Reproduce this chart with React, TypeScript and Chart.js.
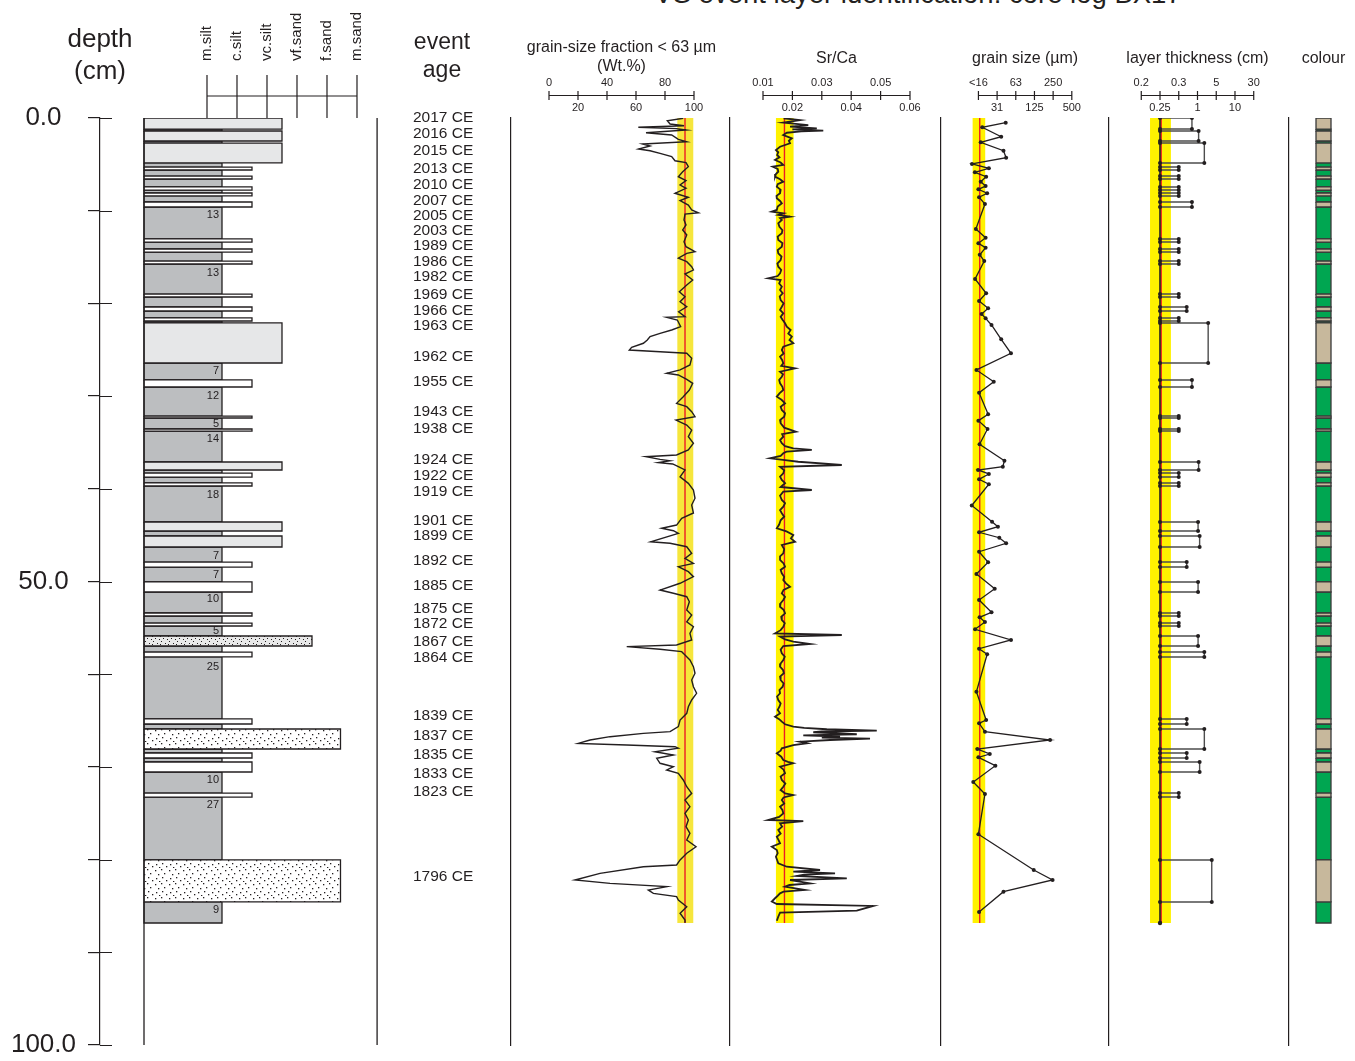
import React, { useEffect, useRef } from 'react';
import { Chart, registerables } from 'chart.js';

Chart.register(...registerables);

const FONT = '"Liberation Sans", Arial, Helvetica, sans-serif';
const INK = '#231f20';
const YELLOW = '#fff200';
const YELLOW_GSF = '#f6e63c';
const RED = '#ed1c24';

// ---------------- depth axis ----------------
const depthTickStep = 10;
const depthLabelValues = [0, 50, 100];
const coreBottom = 86.84;

// ---------------- lithology ----------------
const grainClassLabels = ['m.silt', 'c.silt', 'vc.silt', 'vf.sand', 'f.sand', 'm.sand'];
const grainClassTicks = [2, 3, 4, 5, 6, 7];

// event layers (depth in cm), grain class, plotted layer thickness (cm)
const eventTop = [0, 1.40, 2.70, 5.29, 6.26, 7.44, 8.09, 9.06, 13.05, 14.13, 15.43, 18.99, 20.39, 21.57, 22.11, 28.26, 32.15, 33.55, 37.11, 38.30, 39.37, 43.58, 45.09, 47.90, 50.05, 53.40, 54.48, 55.88, 57.61, 64.83, 65.91, 68.50, 69.47, 72.82, 80.04];
const eventBottom = [1.19, 2.48, 4.85, 5.61, 6.58, 7.77, 8.41, 9.60, 13.38, 14.46, 15.75, 19.31, 20.82, 21.90, 26.43, 29.02, 32.36, 33.77, 37.97, 38.73, 39.70, 44.55, 46.28, 48.44, 51.13, 53.72, 54.80, 56.96, 58.14, 65.37, 68.07, 69.04, 70.55, 73.25, 84.57];
const eventGrain = ['vcsilt', 'vcsilt', 'vcsilt', 'csilt', 'csilt', 'csilt', 'csilt', 'csilt', 'csilt', 'csilt', 'csilt', 'csilt', 'csilt', 'csilt', 'vcsilt', 'csilt', 'csilt', 'csilt', 'vcsilt', 'csilt', 'csilt', 'vcsilt', 'vcsilt', 'csilt', 'csilt', 'csilt', 'csilt', 'vfsand', 'csilt', 'csilt', 'fsand', 'csilt', 'csilt', 'csilt', 'fsand'];
const eventThickness = [0.7, 1.1, 1.8, 0.3, 0.3, 0.3, 0.3, 0.7, 0.3, 0.3, 0.3, 0.3, 0.5, 0.3, 2.5, 0.7, 0.3, 0.3, 1.1, 0.3, 0.3, 1.05, 1.2, 0.5, 1.05, 0.3, 0.3, 1.05, 1.8, 0.5, 1.8, 0.5, 1.2, 0.3, 3.4];

const bedLabelText = ['13', '13', '7', '12', '5', '14', '18', '7', '7', '10', '5', '25', '10', '27', '9'];
const bedLabelDepth = [10.46, 16.72, 27.29, 29.99, 33.01, 34.63, 40.67, 47.25, 49.30, 51.89, 55.34, 59.22, 71.41, 74.11, 85.44];

const eventAgeLabels = ['2017 CE', '2016 CE', '2015 CE', '2013 CE', '2010 CE', '2007 CE', '2005 CE', '2003 CE', '1989 CE', '1986 CE', '1982 CE', '1969 CE', '1966 CE', '1963 CE', '1962 CE', '1955 CE', '1943 CE', '1938 CE', '1924 CE', '1922 CE', '1919 CE', '1901 CE', '1899 CE', '1892 CE', '1885 CE', '1875 CE', '1872 CE', '1867 CE', '1864 CE', '1839 CE', '1837 CE', '1835 CE', '1833 CE', '1823 CE', '1796 CE'];
const eventAgeDepths = [0.00, 1.73, 3.56, 5.50, 7.23, 8.95, 10.57, 12.19, 13.81, 15.53, 17.15, 19.09, 20.82, 22.44, 25.78, 28.48, 31.72, 33.55, 36.89, 38.62, 40.35, 43.47, 45.09, 47.79, 50.49, 52.97, 54.58, 56.53, 58.25, 64.51, 66.67, 68.72, 70.77, 72.71, 81.88];

// ---------------- grain-size fraction < 63 µm ----------------
const gsfAxisTicks = [0, 20, 40, 60, 80, 100];
const gsfBand = [88.5, 99.5];
const gsfMean = 93.8;
const gsfDepth = [
  0.03, 0.29, 0.65, 0.83, 1.00, 1.15, 1.29, 1.59, 1.83, 2.30,
  2.56, 2.80, 3.02, 3.34, 3.53, 3.81, 4.17, 4.61, 4.82, 5.25,
  5.79, 6.33, 6.76, 7.23, 7.58, 8.12, 8.55, 8.92, 9.39, 9.92,
  10.22, 10.36, 11.00, 11.54, 12.08, 12.62, 13.34, 13.88, 14.42, 14.60,
  15.13, 15.50, 16.04, 16.40, 16.83, 17.48, 18.02, 18.74, 19.28, 19.82,
  20.36, 20.90, 21.43, 21.50, 21.79, 22.51, 22.87, 23.23, 23.59, 23.95,
  24.30, 24.74, 25.03, 25.21, 25.38, 25.92, 26.64, 27.18, 27.54, 27.72,
  28.19, 28.62, 29.34, 30.06, 30.78, 31.14, 31.68, 32.22, 32.58, 33.12,
  33.66, 34.38, 35.09, 35.81, 36.35, 36.54, 36.82, 36.97, 37.18, 37.32,
  37.62, 37.97, 38.70, 39.41, 40.13, 41.02, 41.75, 42.61, 43.18, 43.91,
  44.26, 44.52, 44.80, 45.71, 45.88, 46.25, 46.96, 47.50, 48.04, 48.40,
  48.94, 49.48, 50.19, 50.92, 51.27, 51.64, 52.18, 53.07, 53.61, 54.34,
  54.88, 55.59, 56.31, 56.85, 57.03, 57.31, 57.57, 57.93, 58.47, 59.19,
  59.90, 60.63, 61.35, 62.06, 62.78, 63.51, 64.22, 64.94, 65.66, 66.20,
  66.38, 66.74, 67.10, 67.46, 67.64, 67.82, 67.99, 68.36, 68.72, 69.07,
  69.61, 69.98, 70.33, 70.69, 71.41, 72.14, 72.85, 73.57, 74.29, 75.01,
  75.73, 76.45, 77.16, 77.89, 78.61, 79.32, 80.04, 80.58, 80.77, 81.48,
  82.20, 82.56, 82.92, 83.28, 83.64, 84.00, 84.36, 85.08, 85.79, 86.52,
  86.81,
];
const gsfValue = [
  92.6, 81.6, 83.5, 93.1, 61.6, 88.0, 94.5, 66.9, 84.6, 89.2,
  95.0, 64.6, 69.7, 61.8, 69.7, 76.6, 84.6, 86.9, 94.5, 96.1,
  92.2, 89.2, 94.5, 90.4, 94.5, 86.9, 96.1, 90.4, 96.1, 98.4,
  103.0, 93.8, 93.1, 94.5, 92.2, 95.0, 93.1, 94.5, 100.7, 95.0,
  89.2, 95.0, 98.4, 99.6, 93.8, 99.1, 95.0, 89.9, 93.8, 90.4,
  95.0, 89.4, 93.8, 81.2, 88.5, 90.8, 84.6, 76.6, 69.7, 67.8,
  65.1, 57.0, 55.4, 76.6, 95.0, 98.4, 97.2, 90.4, 81.2, 89.2,
  95.0, 99.1, 96.8, 92.6, 88.0, 95.0, 98.4, 100.7, 87.6, 95.0,
  98.4, 96.1, 99.6, 96.1, 88.0, 66.9, 76.6, 83.5, 75.4, 85.3,
  89.2, 93.8, 90.4, 96.1, 99.6, 100.7, 98.4, 99.6, 91.5, 88.0,
  77.7, 85.8, 89.2, 70.1, 83.5, 95.0, 98.4, 93.8, 99.6, 89.2,
  96.1, 99.6, 90.4, 76.6, 85.8, 95.0, 96.8, 95.0, 98.4, 95.0,
  99.6, 97.2, 98.4, 88.0, 53.6, 76.6, 91.5, 93.8, 97.2, 99.6,
  100.7, 98.4, 99.6, 101.8, 98.4, 96.1, 95.0, 90.4, 89.2, 83.5,
  65.1, 42.1, 28.3, 20.2, 53.6, 86.9, 89.2, 73.1, 85.8, 74.3,
  76.6, 85.8, 81.2, 89.2, 92.6, 95.0, 98.4, 93.8, 97.2, 93.8,
  96.1, 94.5, 97.2, 95.0, 101.4, 95.0, 90.4, 88.0, 65.1, 35.2,
  17.9, 42.1, 81.2, 68.5, 72.0, 88.0, 89.2, 95.0, 90.4, 93.8,
  93.8,
];

// ---------------- Sr/Ca ----------------
const srcaAxisTicks = [0.01, 0.02, 0.03, 0.04, 0.05, 0.06];
const srcaBand = [0.0144, 0.0204];
const srcaMean = 0.0173;
const srcaDepth = [
  0.03, 0.22, 0.50, 0.76, 0.94, 1.11, 1.22, 1.37, 1.45, 1.59,
  1.83, 2.19, 2.45, 2.73, 3.10, 3.45, 3.70, 3.99, 4.25, 4.53,
  4.80, 5.07, 5.25, 5.50, 5.79, 6.05, 6.33, 6.60, 6.87, 7.15,
  7.41, 7.75, 8.12, 8.40, 8.66, 8.95, 9.20, 9.55, 9.92, 10.11,
  10.28, 10.45, 10.65, 10.80, 11.00, 11.35, 11.73, 12.10, 12.44, 12.80,
  13.16, 13.50, 13.88, 14.25, 14.60, 14.95, 15.32, 15.70, 16.04, 16.40,
  16.75, 17.05, 17.29, 17.48, 17.85, 18.20, 18.55, 18.91, 19.25, 19.63,
  20.00, 20.36, 20.70, 21.07, 21.45, 21.79, 22.15, 22.51, 22.87, 23.25,
  23.59, 23.95, 24.30, 24.67, 25.03, 25.40, 25.75, 26.10, 26.46, 26.75,
  27.00, 27.37, 27.65, 27.91, 28.25, 28.62, 29.00, 29.34, 29.70, 30.06,
  30.40, 30.78, 31.15, 31.50, 31.85, 32.22, 32.58, 32.93, 33.40, 33.84,
  34.10, 34.38, 34.75, 35.09, 35.40, 35.63, 35.81, 36.00, 36.17, 36.45,
  36.71, 36.90, 37.08, 37.43, 37.62, 38.00, 38.33, 38.70, 39.05, 39.40,
  39.80, 40.13, 40.31, 40.75, 41.21, 41.55, 41.93, 42.30, 42.64, 43.00,
  43.40, 43.85, 44.26, 44.60, 44.98, 45.35, 45.71, 46.06, 46.50, 46.96,
  47.30, 47.68, 48.05, 48.40, 48.75, 49.12, 49.50, 49.84, 50.20, 50.56,
  50.90, 51.27, 51.65, 52.00, 52.35, 52.72, 53.05, 53.43, 53.80, 54.15,
  54.50, 54.88, 55.25, 55.59, 55.77, 55.95, 56.25, 56.49, 56.74, 56.96,
  57.35, 57.75, 58.10, 58.47, 58.85, 59.19, 59.55, 59.90, 60.25, 60.63,
  61.00, 61.35, 61.70, 62.06, 62.40, 62.78, 63.15, 63.51, 63.85, 64.22,
  64.58, 64.85, 65.12, 65.40, 65.66, 65.80, 65.94, 66.09, 66.18, 66.26,
  66.37, 66.48, 66.59, 66.74, 66.85, 66.96, 67.10, 67.28, 67.45, 67.64,
  67.99, 68.25, 68.53, 68.90, 69.26, 69.45, 69.61, 69.98, 70.30, 70.69,
  71.05, 71.41, 71.80, 72.14, 72.50, 72.85, 73.03, 73.30, 73.57, 73.95,
  74.29, 74.65, 75.01, 75.40, 75.73, 75.84, 76.09, 76.45, 76.81, 77.20,
  77.53, 77.90, 78.24, 78.61, 78.96, 79.30, 79.69, 80.05, 80.40, 80.77,
  81.12, 81.30, 81.48, 81.62, 81.77, 82.02, 82.20, 82.40, 82.56, 82.74,
  82.92, 83.10, 83.28, 83.45, 83.64, 83.90, 84.17, 84.53, 84.79, 85.00,
  85.51, 85.73, 86.16, 86.59,
];
const srcaValue = [
  0.0170, 0.0226, 0.0169, 0.0254, 0.0192, 0.0283, 0.0200, 0.0305, 0.0230, 0.0181,
  0.0169, 0.0198, 0.0188, 0.0192, 0.0158, 0.0144, 0.0152, 0.0148, 0.0156, 0.0141,
  0.0160, 0.0169, 0.0133, 0.0150, 0.0152, 0.0144, 0.0141, 0.0158, 0.0169, 0.0150,
  0.0147, 0.0160, 0.0158, 0.0146, 0.0147, 0.0158, 0.0164, 0.0150, 0.0147, 0.0130,
  0.0169, 0.0152, 0.0192, 0.0158, 0.0164, 0.0152, 0.0156, 0.0166, 0.0164, 0.0150,
  0.0152, 0.0166, 0.0164, 0.0150, 0.0152, 0.0163, 0.0160, 0.0149, 0.0152, 0.0162,
  0.0158, 0.0150, 0.0118, 0.0160, 0.0155, 0.0164, 0.0158, 0.0167, 0.0157, 0.0160,
  0.0170, 0.0164, 0.0158, 0.0169, 0.0160, 0.0167, 0.0175, 0.0181, 0.0194, 0.0186,
  0.0198, 0.0190, 0.0203, 0.0169, 0.0164, 0.0170, 0.0158, 0.0165, 0.0169, 0.0162,
  0.0209, 0.0158, 0.0168, 0.0164, 0.0155, 0.0158, 0.0166, 0.0169, 0.0156, 0.0147,
  0.0163, 0.0175, 0.0160, 0.0164, 0.0175, 0.0172, 0.0158, 0.0160, 0.0172, 0.0212,
  0.0165, 0.0169, 0.0158, 0.0164, 0.0175, 0.0203, 0.0266, 0.0180, 0.0169, 0.0160,
  0.0124, 0.0175, 0.0220, 0.0368, 0.0158, 0.0172, 0.0169, 0.0158, 0.0164, 0.0175,
  0.0160, 0.0266, 0.0169, 0.0158, 0.0164, 0.0175, 0.0169, 0.0158, 0.0164, 0.0172,
  0.0160, 0.0155, 0.0147, 0.0180, 0.0203, 0.0195, 0.0209, 0.0164, 0.0172, 0.0169,
  0.0158, 0.0158, 0.0170, 0.0175, 0.0160, 0.0164, 0.0172, 0.0169, 0.0178, 0.0192,
  0.0170, 0.0164, 0.0175, 0.0169, 0.0160, 0.0158, 0.0170, 0.0175, 0.0162, 0.0164,
  0.0174, 0.0169, 0.0160, 0.0141, 0.0368, 0.0158, 0.0175, 0.0203, 0.0260, 0.0169,
  0.0160, 0.0164, 0.0174, 0.0169, 0.0160, 0.0158, 0.0168, 0.0171, 0.0158, 0.0160,
  0.0170, 0.0167, 0.0156, 0.0158, 0.0148, 0.0152, 0.0160, 0.0156, 0.0150, 0.0158,
  0.0141, 0.0155, 0.0164, 0.0175, 0.0203, 0.0240, 0.0317, 0.0487, 0.0300, 0.0271,
  0.0350, 0.0419, 0.0237, 0.0362, 0.0300, 0.0464, 0.0328, 0.0226, 0.0250, 0.0203,
  0.0164, 0.0160, 0.0147, 0.0162, 0.0169, 0.0185, 0.0203, 0.0158, 0.0170, 0.0175,
  0.0160, 0.0164, 0.0176, 0.0169, 0.0160, 0.0175, 0.0203, 0.0170, 0.0164, 0.0172,
  0.0158, 0.0166, 0.0169, 0.0155, 0.0118, 0.0237, 0.0158, 0.0165, 0.0152, 0.0160,
  0.0147, 0.0153, 0.0158, 0.0130, 0.0147, 0.0150, 0.0144, 0.0148, 0.0152, 0.0181,
  0.0294, 0.0203, 0.0345, 0.0240, 0.0215, 0.0385, 0.0192, 0.0230, 0.0260, 0.0190,
  0.0175, 0.0210, 0.0243, 0.0170, 0.0158, 0.0150, 0.0141, 0.0130, 0.0147, 0.0475,
  0.0419, 0.0158, 0.0152, 0.0147,
];

// ---------------- grain size (µm) ----------------
const gsAxisTicks = [15.625, 31.25, 62.5, 125, 250, 500];
const gsAxisLabels = ['<16', '31', '63', '125', '250', '500'];
const gsBand = [12.6, 20.1];
const gsMean = 16.4;
const gsDepth = [
  0.51, 1.00, 2.02, 2.62, 3.53, 4.28, 4.96, 5.43, 5.86, 6.33,
  6.87, 7.34, 7.69, 8.12, 8.55, 9.28, 11.97, 12.91, 13.52, 13.99,
  14.75, 15.43, 17.37, 18.91, 19.74, 20.53, 21.14, 21.61, 22.33, 23.87,
  25.38, 27.18, 28.45, 29.63, 31.96, 32.65, 33.55, 35.20, 36.97, 37.62,
  37.97, 38.40, 38.98, 39.51, 41.80, 43.55, 44.09, 44.69, 45.28, 45.88,
  46.79, 47.93, 49.19, 50.78, 52.00, 53.32, 53.86, 54.37, 55.16, 56.31,
  57.25, 57.85, 61.89, 64.94, 65.30, 66.20, 67.10, 68.07, 68.61, 68.97,
  69.87, 71.63, 72.92, 77.27, 81.12, 82.20, 83.46, 85.65,
];
const gsValue = [
  43.0, 18.0, 36.4, 17.0, 39.6, 43.7, 12.3, 23.0, 13.7, 20.8,
  17.0, 20.4, 15.6, 21.6, 16.0, 19.9, 14.2, 20.4, 15.6, 20.4,
  16.4, 19.4, 13.8, 20.8, 16.0, 22.4, 17.6, 20.4, 25.4, 36.4,
  52.3, 14.5, 27.6, 16.0, 22.4, 15.6, 21.9, 16.3, 41.0, 38.6,
  15.4, 23.0, 16.0, 23.0, 12.2, 25.9, 32.2, 16.0, 33.9, 43.7,
  16.0, 22.4, 14.5, 28.6, 16.0, 25.4, 16.3, 19.9, 13.8, 52.3,
  16.0, 21.6, 14.5, 20.8, 16.0, 19.9, 222.9, 15.0, 23.8, 15.6,
  29.3, 12.9, 19.9, 15.6, 121.7, 244.8, 39.6, 16.0,
];

// ---------------- layer thickness (cm) ----------------
const thicknessTicks = [0.2, 0.25, 0.3, 1, 5, 10, 30];
const thicknessTickLabels = ['0.2', '0.25', '0.3', '1', '5', '10', '30'];
const thicknessBaseline = 0.25;
const thicknessBand = [0.222, 0.278];
const thicknessMean = 0.253;

// ---------------- colours ----------------
const colourEvent = '#c7b89c';
const colourBackground = '#00a651';

// ====================================================================
const AXIS_Y = 95.5;
type Pt = { x: number; y: number };

const rect = (x0: number, x1: number, top: number, bottom: number): Pt[] => [
  { x: x0, y: top }, { x: x1, y: top }, { x: x1, y: bottom }, { x: x0, y: bottom }, { x: x0, y: top },
];
const vline = (x: number, top: number, bottom: number): Pt[] => [{ x, y: top }, { x, y: bottom }];
const zip = (ys: number[], xs: number[]): Pt[] => ys.map((y, i) => ({ x: xs[i], y }));

function gaps(tops: number[], bottoms: number[], start: number, end: number): number[][] {
  const out: number[][] = [];
  let cur = start;
  tops.forEach((t, i) => {
    if (t > cur + 1e-6) out.push([cur, t]);
    cur = bottoms[i];
  });
  if (cur < end - 1e-6) out.push([cur, end]);
  return out;
}

function thicknessPos(t: number): number {
  const k = thicknessTicks;
  for (let i = 0; i < k.length - 1; i++) {
    if (t <= k[i + 1] || i === k.length - 2) {
      return i + Math.log(t / k[i]) / Math.log(k[i + 1] / k[i]);
    }
  }
  return 0;
}

function shapeDs(points: Pt[], fill: any, opts: any = {}) {
  return { data: points, fill: 'shape', backgroundColor: fill, borderColor: INK, borderWidth: 1.3, pointRadius: 0, ...opts };
}
function lineDs(points: Pt[], color: string, width: number, opts: any = {}) {
  return { data: points, fill: false, borderColor: color, borderWidth: width, pointRadius: 0, ...opts };
}

function txt(ctx: CanvasRenderingContext2D, s: string, x: number, y: number, size: number, align: CanvasTextAlign = 'center') {
  ctx.save();
  ctx.font = `${size}px ${FONT}`;
  ctx.fillStyle = INK;
  ctx.textAlign = align;
  ctx.textBaseline = 'middle';
  ctx.fillText(s, x, y);
  ctx.restore();
}

function topAxis(chart: any, values: number[], labels: string[]) {
  const ctx: CanvasRenderingContext2D = chart.ctx;
  const xs = chart.scales.x;
  const px = values.map((v) => xs.getPixelForValue(v));
  ctx.save();
  ctx.strokeStyle = INK;
  ctx.lineWidth = 1.2;
  ctx.beginPath();
  ctx.moveTo(px[0], AXIS_Y);
  ctx.lineTo(px[px.length - 1], AXIS_Y);
  px.forEach((p) => {
    ctx.moveTo(p, AXIS_Y - 4.5);
    ctx.lineTo(p, AXIS_Y + 4.5);
  });
  ctx.stroke();
  ctx.restore();
  labels.forEach((l, i) => txt(ctx, l, px[i], i % 2 === 0 ? 83 : 108, 11));
}

function panelTitle(chart: any, lines: string[], centerValue: number) {
  const x = chart.scales.x.getPixelForValue(centerValue);
  if (lines.length === 1) txt(chart.ctx, lines[0], x, 59, 16);
  else {
    txt(chart.ctx, lines[0], x, 48, 16);
    txt(chart.ctx, lines[1], x, 67, 16);
  }
}

function panelOptions(x: any, draw: (c: any) => void) {
  return {
    options: {
      responsive: false,
      animation: false,
      devicePixelRatio: 1,
      events: [],
      layout: { padding: { top: 118, bottom: 16, left: 0, right: 0 } },
      plugins: { legend: { display: false }, tooltip: { enabled: false }, title: { display: false } },
      elements: { line: { tension: 0 }, point: { radius: 0 } },
      scales: {
        x: { display: false, bounds: 'data', ...x },
        y: {
          type: 'linear', position: 'left', reverse: true, min: 0, max: 100,
          afterFit: (s: any) => { s.width = 10; },
          ticks: { display: false },
          grid: { display: false },
          border: { display: true, color: INK, width: 1.2 },
        },
      },
    },
    plugins: [{ id: 'decor', afterDraw: (c: any) => draw(c) }],
  };
}

function makePattern(bg: string, dots: number[][], size: number, dot: number): CanvasPattern | string {
  const c = document.createElement('canvas');
  c.width = size;
  c.height = size;
  const g = c.getContext('2d');
  if (!g) return bg;
  g.fillStyle = bg;
  g.fillRect(0, 0, size, size);
  g.fillStyle = INK;
  dots.forEach(([x, y]) => g.fillRect(x, y, dot, dot));
  return g.createPattern(c, 'repeat') || bg;
}

const LOG_LEFT = -0.1;
const LOG_RIGHT = 7.67;
const grainPos: Record<string, number> = { mud: 2.5, csilt: 3.5, vcsilt: 4.5, vfsand: 5.5, fsand: 6.45 };

export default function App() {
  const r0 = useRef<HTMLCanvasElement>(null);
  const r1 = useRef<HTMLCanvasElement>(null);
  const r2 = useRef<HTMLCanvasElement>(null);
  const r3 = useRef<HTMLCanvasElement>(null);
  const r4 = useRef<HTMLCanvasElement>(null);
  const r5 = useRef<HTMLCanvasElement>(null);

  useEffect(() => {
    const fineStipple = makePattern('#e9e9e9', [[1, 1], [5, 3], [3, 6], [7, 7], [0, 4]], 8, 1);
    const coarseStipple = makePattern('#ffffff', [[1, 2], [7, 1], [4, 6], [10, 5], [2, 10], [8, 9], [12, 12], [5, 13]], 14, 1.3);
    const fills: Record<string, any> = { mud: '#bcbec0', csilt: '#ffffff', vcsilt: '#e6e7e8', vfsand: fineStipple, fsand: coarseStipple };

    const charts: Chart[] = [];

    // ---------- depth + lithology + event ages ----------
    const mudBeds = gaps(eventTop, eventBottom, 0, coreBottom);
    const logCfg: any = {
      type: 'line',
      data: {
        datasets: [
          ...mudBeds.map(([t, b]) => shapeDs(rect(LOG_LEFT, grainPos.mud, t, b), fills.mud, { order: 2 })),
          ...eventTop.map((t, i) => shapeDs(rect(LOG_LEFT, grainPos[eventGrain[i]], t, eventBottom[i]), fills[eventGrain[i]], { order: 1 })),
          lineDs(vline(LOG_LEFT, 0, 100), INK, 1.3, { order: 0 }),
          lineDs(vline(LOG_RIGHT, 0, 100), INK, 1.3, { order: 0 }),
        ],
      },
      options: {
        responsive: false,
        animation: false,
        devicePixelRatio: 1,
        events: [],
        layout: { padding: { top: 118, bottom: 16, left: 0, right: 0 } },
        plugins: { legend: { display: false }, tooltip: { enabled: false } },
        scales: {
          x: { type: 'linear', display: false, bounds: 'data', min: -1.5667, max: 11.767 },
          y: {
            type: 'linear', position: 'left', reverse: true, min: 0, max: 100,
            afterFit: (s: any) => {
              s.width = 100;
              s.paddingTop = 0;
              s.paddingBottom = 0;
            },
            ticks: {
              stepSize: depthTickStep, autoSkip: false, padding: 12, crossAlign: 'center', color: INK,
              font: { family: FONT, size: 26 },
              callback: (v: any) => (depthLabelValues.includes(Number(v)) ? Number(v).toFixed(1) : ''),
            },
            grid: { drawOnChartArea: false, drawTicks: true, tickLength: 12, color: INK, lineWidth: 1.2 },
            border: { display: true, color: INK, width: 1.2 },
          },
        },
      },
      plugins: [{
        id: 'decor',
        afterDraw: (c: any) => {
          const ctx: CanvasRenderingContext2D = c.ctx;
          const xs = c.scales.x;
          const ys = c.scales.y;
          const left = c.chartArea.left;
          // right half of depth ticks
          ctx.save();
          ctx.strokeStyle = INK;
          ctx.lineWidth = 1.2;
          ctx.beginPath();
          ys.ticks.forEach((t: any) => {
            const yp = Math.round(ys.getPixelForValue(t.value)) + 0.5;
            ctx.moveTo(left, yp);
            ctx.lineTo(left + 12, yp);
          });
          // lithology header scale
          const px = grainClassTicks.map((v) => xs.getPixelForValue(v));
          ctx.moveTo(px[0], 96);
          ctx.lineTo(px[px.length - 1], 96);
          px.forEach((p) => { ctx.moveTo(p, 75); ctx.lineTo(p, 118); });
          ctx.stroke();
          ctx.restore();
          grainClassLabels.forEach((l, i) => {
            ctx.save();
            ctx.translate(px[i], 61);
            ctx.rotate(-Math.PI / 2);
            ctx.font = `15px ${FONT}`;
            ctx.fillStyle = INK;
            ctx.textAlign = 'left';
            ctx.textBaseline = 'middle';
            ctx.fillText(l, 0, 0);
            ctx.restore();
          });
          txt(ctx, 'depth', left, 40, 26);
          txt(ctx, '(cm)', left, 72, 26);
          txt(ctx, 'event', 442, 43, 23);
          txt(ctx, 'age', 442, 71, 23);
          bedLabelText.forEach((s, i) => txt(ctx, s, xs.getPixelForValue(2.4), ys.getPixelForValue(bedLabelDepth[i]), 11, 'right'));
          eventAgeLabels.forEach((s, i) => txt(ctx, s, 413, ys.getPixelForValue(eventAgeDepths[i]), 15.5, 'left'));
        },
      }],
    };
    charts.push(new Chart(r0.current as HTMLCanvasElement, logCfg));

    // ---------- grain-size fraction ----------
    const gsfCfg: any = {
      type: 'line',
      data: {
        datasets: [
          shapeDs(rect(gsfBand[0], gsfBand[1], 0, coreBottom), YELLOW_GSF, { borderWidth: 0, order: 3 }),
          lineDs(vline(gsfMean, 0, coreBottom), RED, 1.4, { order: 2 }),
          lineDs(zip(gsfDepth, gsfValue), INK, 1.4, { order: 1 }),
        ],
      },
      ...panelOptions({ type: 'linear', min: -26.207, max: 124.83 }, (c) => {
        topAxis(c, gsfAxisTicks, gsfAxisTicks.map(String));
        panelTitle(c, ['grain-size fraction < 63 µm', '(Wt.%)'], 50);
      }),
    };
    charts.push(new Chart(r1.current as HTMLCanvasElement, gsfCfg));

    // ---------- Sr/Ca ----------
    const srcaCfg: any = {
      type: 'line',
      data: {
        datasets: [
          shapeDs(rect(srcaBand[0], srcaBand[1], 0, coreBottom), YELLOW, { borderWidth: 0, order: 3 }),
          lineDs(vline(srcaMean, 0, coreBottom), RED, 1.4, { order: 2 }),
          lineDs(zip(srcaDepth, srcaValue), INK, 1.8, { order: 1 }),
        ],
      },
      ...panelOptions({ type: 'linear', min: -0.0012245, max: 0.070544 }, (c) => {
        topAxis(c, srcaAxisTicks, srcaAxisTicks.map((v) => v.toFixed(2)));
        panelTitle(c, ['Sr/Ca'], 0.035);
      }),
    };
    charts.push(new Chart(r2.current as HTMLCanvasElement, srcaCfg));

    // ---------- grain size ----------
    const gsCfg: any = {
      type: 'line',
      data: {
        datasets: [
          shapeDs(rect(gsBand[0], gsBand[1], 0, coreBottom), YELLOW, { borderWidth: 0, order: 3 }),
          lineDs(vline(gsMean, 0, coreBottom), RED, 1.4, { order: 2 }),
          lineDs(zip(gsDepth, gsValue), INK, 1.3, { order: 1, pointRadius: 2, pointBackgroundColor: INK, pointBorderWidth: 0 }),
        ],
      },
      ...panelOptions({ type: 'logarithmic', min: 3.895, max: 1714 }, (c) => {
        topAxis(c, gsAxisTicks, gsAxisLabels);
        panelTitle(c, ['grain size (µm)'], Math.sqrt(gsAxisTicks[0] * gsAxisTicks[gsAxisTicks.length - 1]));
      }),
    };
    charts.push(new Chart(r3.current as HTMLCanvasElement, gsCfg));

    // ---------- layer thickness ----------
    const base = thicknessPos(thicknessBaseline);
    const thCfg: any = {
      type: 'line',
      data: {
        datasets: [
          shapeDs(rect(thicknessPos(thicknessBand[0]), thicknessPos(thicknessBand[1]), 0, coreBottom), YELLOW, { borderWidth: 0, order: 4 }),
          lineDs(vline(thicknessPos(thicknessMean), 0, coreBottom), RED, 1.3, { order: 3 }),
          ...eventTop.map((t, i) => {
            const p = thicknessPos(eventThickness[i]);
            return lineDs(
              [{ x: base, y: t }, { x: p, y: t }, { x: p, y: eventBottom[i] }, { x: base, y: eventBottom[i] }],
              '#4d4d4d', 1.4, { order: 2, pointRadius: 2, pointBackgroundColor: INK, pointBorderWidth: 0 },
            );
          }),
          lineDs(vline(base, 0, coreBottom), INK, 1.6, { order: 1, pointRadius: [0, 2.2], pointBackgroundColor: INK, pointBorderWidth: 0 }),
        ],
      },
      ...panelOptions({ type: 'linear', min: -1.7214, max: 7.6684 }, (c) => {
        topAxis(c, thicknessTicks.map((_, i) => i), thicknessTickLabels);
        panelTitle(c, ['layer thickness (cm)'], (thicknessTicks.length - 1) / 2);
      }),
    };
    charts.push(new Chart(r4.current as HTMLCanvasElement, thCfg));

    // ---------- colour ----------
    const bgSegs = gaps(eventTop, eventBottom, 0, coreBottom);
    const colCfg: any = {
      type: 'line',
      data: {
        datasets: [
          ...bgSegs.map(([t, b]) => shapeDs(rect(0, 1, t, b), colourBackground, { borderColor: '#3a3a3a', borderWidth: 1.3, order: 2 })),
          ...eventTop.map((t, i) => shapeDs(rect(0, 1, t, eventBottom[i]), colourEvent, { borderColor: '#3a3a3a', borderWidth: 1.3, order: 1 })),
        ],
      },
      ...panelOptions({ type: 'linear', min: -1.8, max: 2.6 }, (c) => {
        panelTitle(c, ['colour'], 0.5);
      }),
    };
    charts.push(new Chart(r5.current as HTMLCanvasElement, colCfg));

    return () => charts.forEach((ch) => ch.destroy());
  }, []);

  const panels = [
    { ref: r0, left: 0, width: 500 },
    { ref: r1, left: 501, width: 229 },
    { ref: r2, left: 720, width: 221 },
    { ref: r3, left: 931, width: 178 },
    { ref: r4, left: 1099, width: 190 },
    { ref: r5, left: 1279, width: 76 },
  ];

  return (
    <div style={{ position: 'absolute', left: 0, top: 0, width: 1355, height: 1061, overflow: 'hidden', background: '#ffffff' }}>
      <div
        style={{
          position: 'absolute', left: 518, top: -20.5, width: 800, textAlign: 'center',
          font: `27.5px ${FONT}`, lineHeight: '27.5px', color: INK, whiteSpace: 'nowrap',
        }}
      >
        VS event layer identification: core log BX17
      </div>
      {panels.map((p, i) => (
        <canvas
          key={i}
          ref={p.ref}
          width={p.width}
          height={1061}
          style={{ position: 'absolute', left: p.left, top: 0, width: p.width, height: 1061 }}
        />
      ))}
    </div>
  );
}
